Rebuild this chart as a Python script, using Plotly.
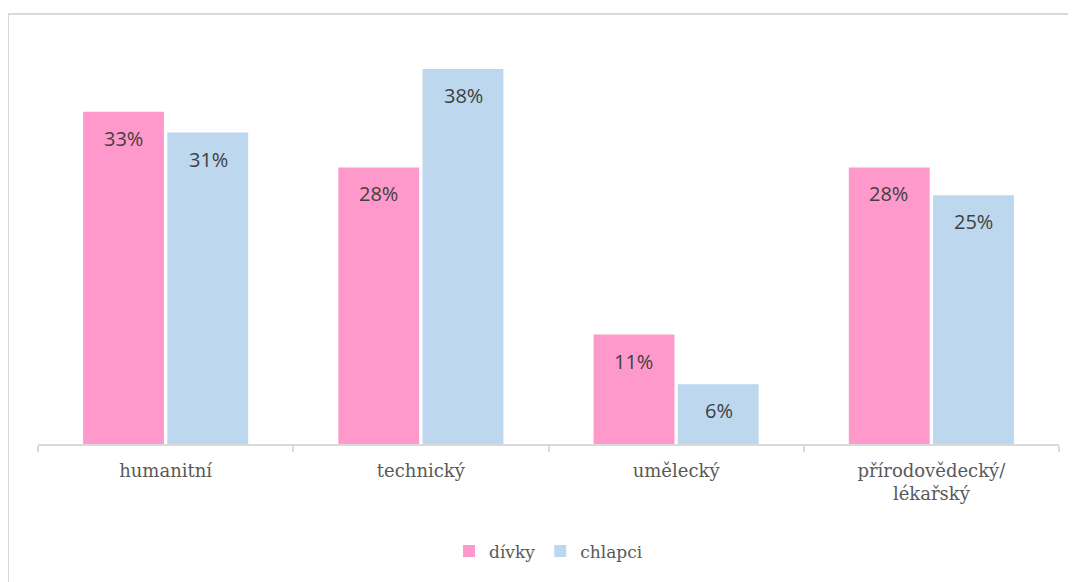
import plotly.graph_objects as go

categories = ["humanitní", "technický", "umělecký", "přírodovědecký/<br>lékařský"]
divky = [33.4, 27.8, 11.0, 27.8]
chlapci = [31.3, 37.7, 6.0, 25.0]
series_names = ["dívky", "chlapci"]
colors = ["#FF99CC", "#BDD7EE"]

SERIF = "DejaVu Serif"
SANS = "Open Sans"

fig = go.Figure()
for name, vals, col in zip(series_names, [divky, chlapci], colors):
    fig.add_trace(go.Bar(x=categories, y=vals, name=name, marker_color=col,
                         marker_line_width=0, hoverinfo="skip"))

# value labels inside bars near their top
for vals, shift in [(divky, -42.5), (chlapci, 42.5)]:
    for c, v in zip(categories, vals):
        fig.add_annotation(x=c, y=v, text=f"{v:.0f}%", showarrow=False,
                           xshift=shift, yshift=-11, yanchor="top",
                           font=dict(family=SANS, size=20, color="#404040"))

# chart frame
fig.add_shape(type="rect", xref="paper", yref="paper",
              x0=-0.0294, x1=1.1, y0=-0.6, y1=1.0805,
              line=dict(color="#D9D9D9", width=2), fillcolor="rgba(0,0,0,0)", layer="below")

fig.update_layout(
    width=1068, height=574,
    margin=dict(l=30, r=17, t=38, b=138),
    paper_bgcolor="white", plot_bgcolor="white",
    barmode="group", bargap=0.34, bargroupgap=0.04,
    showlegend=True,
    legend=dict(orientation="h", x=0.5, xanchor="center", y=-0.225, yanchor="top",
                font=dict(family=SERIF, size=17, color="#595959"),
                itemwidth=30, tracegroupgap=0),
    font=dict(family=SERIF, color="#595959"),
)
fig.update_xaxes(showline=True, linecolor="#D9D9D9", linewidth=2,
                 ticks="outside", tickson="boundaries", ticklen=6, tickcolor="#D9D9D9", tickwidth=2,
                 tickfont=dict(family=SERIF, size=18, color="#595959"),
                 showgrid=False, ticklabelstandoff=9)
fig.update_yaxes(range=[0, 40], visible=False, showgrid=False)

fig.write_html("out.html")
